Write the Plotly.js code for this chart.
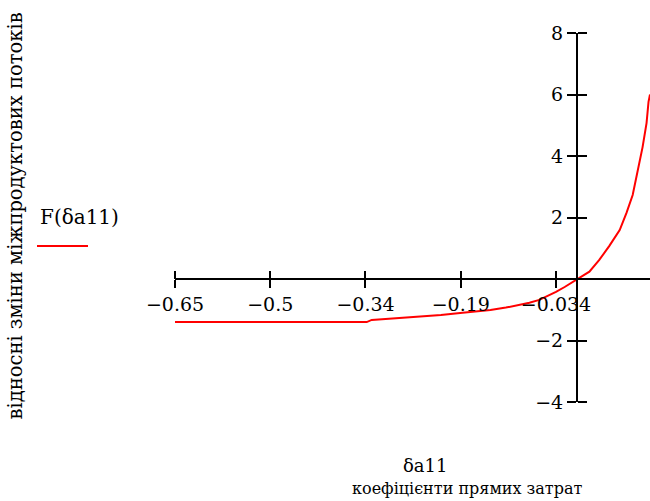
<!DOCTYPE html>
<html>
<head>
<meta charset="utf-8">
<script src="https://cdn.plot.ly/plotly-3.0.1.min.js"></script>
<style>html,body{margin:0;padding:0;background:#fff;}#chart{width:650px;height:501px;}</style>
</head>
<body>
<div id="chart"></div>
<script>
// values
var deltaA11 = [-0.65, -0.55, -0.45, -0.34, -0.332, -0.27, -0.22, -0.185, -0.14, -0.115, -0.093, -0.077, -0.061, -0.047, -0.034, -0.02, -0.01, 0, 0.01, 0.02, 0.036, 0.052, 0.069, 0.080, 0.090, 0.098, 0.106, 0.1124, 0.1156, 0.118];
var F = [-1.40, -1.40, -1.40, -1.40, -1.33, -1.25, -1.17, -1.10, -1.01, -0.93, -0.85, -0.77, -0.68, -0.55, -0.42, -0.26, -0.13, 0, 0.11, 0.24, 0.62, 1.07, 1.59, 2.15, 2.73, 3.54, 4.29, 5.07, 5.76, 6.0];
var xTickVals = [-0.65, -0.496, -0.342, -0.188, -0.034];
var xTickText = ['−0.65', '−0.5', '−0.34', '−0.19', '−0.034'];
var yTickVals = [-4, -2, 0, 2, 4, 6, 8];
var yTickText = ['−4', '−2', '', '2', '4', '6', '8'];
var xRange = [-0.65, 0.118];
var yRange = [-4, 8];
var yTitle = 'відносні зміни міжпродуктових потоків';
var xTitle1 = 'δa11';
var xTitle2 = 'коефіцієнти прямих затрат';
var legendText = 'F(δa11)';

var FONT = 'DejaVu Serif';
var xPos = (0 - yRange[0]) / (yRange[1] - yRange[0]);
var yPos = (0 - xRange[0]) / (xRange[1] - xRange[0]);

var traces = [
  {x: deltaA11, y: F, type: 'scatter', mode: 'lines', line: {color: '#ff0000', width: 2}, showlegend: false, hoverinfo: 'skip', cliponaxis: true},
  {x: deltaA11, y: F, xaxis: 'x2', yaxis: 'y2', type: 'scatter', mode: 'lines', line: {color: 'rgba(0,0,0,0)', width: 0}, showlegend: false, hoverinfo: 'skip'}
];

var axFont = {family: FONT, size: 19, color: '#000'};
var layout = {
  width: 650, height: 501,
  margin: {l: 175, r: 0, t: 33, b: 99},
  paper_bgcolor: '#fff', plot_bgcolor: 'rgba(0,0,0,0)',
  showlegend: false,
  font: {family: FONT, color: '#000'},
  xaxis: {range: xRange, domain: [0, 1], anchor: 'free', position: xPos, side: 'bottom',
    showline: true, linecolor: '#000', linewidth: 2, ticks: 'outside', ticklen: 8, tickwidth: 2, tickcolor: '#000',
    tickmode: 'array', tickvals: xTickVals, ticktext: xTickText, tickfont: axFont, ticklabelstandoff: 0,
    showgrid: false, zeroline: false, fixedrange: true},
  xaxis2: {range: xRange, overlaying: 'x', anchor: 'free', position: xPos, side: 'top',
    showline: false, ticks: 'outside', ticklen: 8, tickwidth: 2, tickcolor: '#000',
    tickmode: 'array', tickvals: xTickVals, showticklabels: false, showgrid: false, zeroline: false},
  yaxis: {range: yRange, domain: [0, 1], anchor: 'free', position: yPos, side: 'left',
    showline: true, linecolor: '#000', linewidth: 2, ticks: 'outside', ticklen: 9, tickwidth: 2, tickcolor: '#000',
    tickmode: 'array', tickvals: yTickVals, ticktext: yTickText, tickfont: axFont, ticklabelstandoff: 0,
    showgrid: false, zeroline: false, fixedrange: true},
  yaxis2: {range: yRange, overlaying: 'y', anchor: 'free', position: yPos, side: 'right',
    showline: false, ticks: 'outside', ticklen: 9, tickwidth: 2, tickcolor: '#000',
    tickmode: 'array', tickvals: yTickVals, showticklabels: false, showgrid: false, zeroline: false},
  annotations: [
    {text: yTitle, xref: 'paper', yref: 'paper', x: -174/475, y: (402-216)/369, textangle: -90, showarrow: false,
      font: {family: FONT, size: 19.5, color: '#000'}, xanchor: 'left', yanchor: 'middle'},
    {text: legendText, xref: 'paper', yref: 'paper', x: (38-175)/475, y: (402-217)/369, showarrow: false,
      font: {family: FONT, size: 20, color: '#000'}, xanchor: 'left', yanchor: 'middle'},
    {text: xTitle1, xref: 'paper', yref: 'paper', x: (425-175)/475, y: (402-465)/369, showarrow: false,
      font: {family: FONT, size: 18, color: '#000'}, xanchor: 'center', yanchor: 'middle'},
    {text: xTitle2, xref: 'paper', yref: 'paper', x: (467-175)/475, y: (402-488)/369, showarrow: false,
      font: {family: FONT, size: 16, color: '#000'}, xanchor: 'center', yanchor: 'middle'}
  ],
  shapes: [
    {type: 'line', xref: 'paper', yref: 'paper', x0: (37-175)/475, x1: (88-175)/475, y0: (402-246)/369, y1: (402-246)/369,
      line: {color: '#ff0000', width: 2}}
  ]
};

Plotly.newPlot('chart', traces, layout, {displayModeBar: false, staticPlot: true});
</script>
</body>
</html>
